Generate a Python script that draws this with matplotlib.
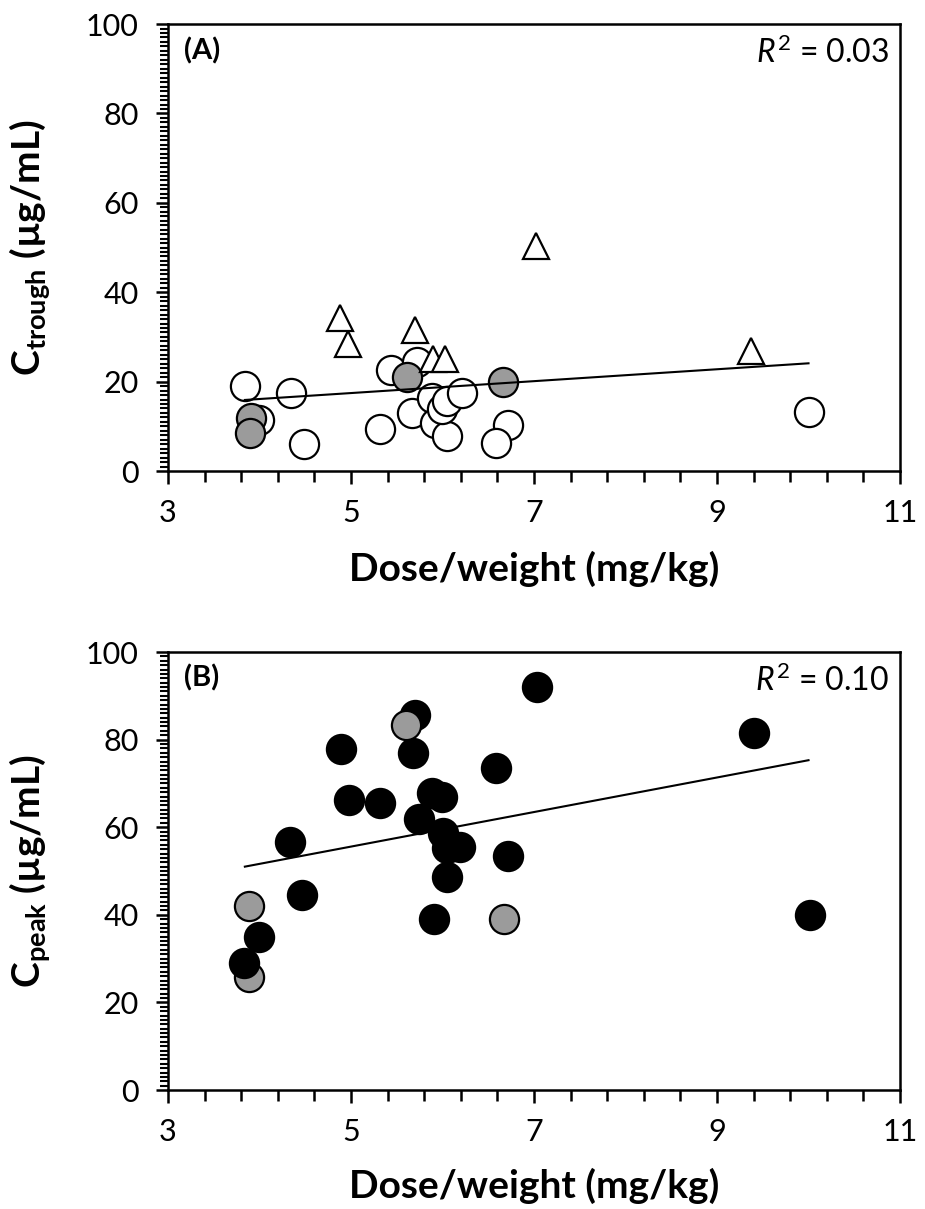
import matplotlib
matplotlib.use("Agg")
import matplotlib.pyplot as plt
import numpy as np
from matplotlib.ticker import FixedLocator

plt.rcParams["font.family"] = ["Lato", "DejaVu Sans"]
plt.rcParams["mathtext.fontset"] = "custom"
plt.rcParams["mathtext.rm"] = "Lato"
plt.rcParams["mathtext.it"] = "Lato:italic"
plt.rcParams["mathtext.bf"] = "Lato:bold"

# panel A: trough, circles (open / grey) and triangles
trough_dose = [3.84, 4.34, 4.00, 4.49, 5.32, 5.44, 5.72, 5.67, 5.88, 5.92,
               6.05, 5.99, 6.05, 6.21, 6.72, 6.58, 10.0]
trough_conc = [19.0, 17.4, 11.4, 6.0, 9.3, 22.6, 24.5, 12.9, 16.3, 10.7,
               7.8, 13.9, 15.6, 17.4, 10.3, 6.2, 13.3]
trough_grey_dose = [3.91, 3.90, 5.61, 6.66]
trough_grey_conc = [11.8, 8.6, 21.1, 20.0]
tri_dose = [4.88, 4.97, 5.70, 5.90, 6.03, 7.02, 9.37]
tri_conc = [34.2, 28.4, 31.5, 25.0, 25.0, 50.3, 26.8]
fit_x = [3.84, 10.0]
fit_a = [15.9, 24.1]
r2_a = "0.03"

# panel B: peak, drawn in this order; 'k' black, 'g' grey
peak_dose = [3.89, 7.03, 5.70, 4.89, 5.68, 6.58, 4.98, 5.32, 5.88, 5.99,
             5.74, 6.01, 6.19, 6.05, 6.05, 6.72, 4.33, 4.47, 4.00, 3.83,
             5.91, 10.02, 9.40, 5.60, 3.88, 6.67]
peak_conc = [25.9, 92.1, 85.6, 77.8, 77.0, 73.6, 66.2, 65.5, 67.7, 67.0,
             61.8, 58.6, 55.5, 55.2, 48.7, 53.4, 56.7, 44.5, 35.0, 28.9,
             39.0, 40.0, 81.6, 83.3, 42.1, 39.0]
peak_group = ["g", "k", "k", "k", "k", "k", "k", "k", "k", "k",
              "k", "k", "k", "k", "k", "k", "k", "k", "k", "k",
              "k", "k", "k", "g", "g", "g"]
fit_b = [51.0, 75.3]
r2_b = "0.10"

x_ticks = [3, 5, 7, 9, 11]
y_ticks = [0, 20, 40, 60, 80, 100]

GREY = "#9b9b9b"
MS = 21
EW = 1.6


def style_axes(ax, ylabel, tag, r2):
    ax.set_xlim(3, 11)
    ax.set_ylim(0, 100)
    ax.xaxis.set_major_locator(FixedLocator(x_ticks))
    ax.xaxis.set_minor_locator(FixedLocator(np.arange(3, 11.01, 0.4)))
    ax.yaxis.set_major_locator(FixedLocator(y_ticks))
    ax.yaxis.set_minor_locator(FixedLocator(np.arange(0, 100.5, 1)))
    for sp in ax.spines.values():
        sp.set_linewidth(1.8)
    ax.tick_params(axis="both", which="major", direction="out", width=1.8,
                   labelsize=22, length=9)
    ax.tick_params(axis="x", which="minor", direction="out", width=1.8, length=8)
    ax.tick_params(axis="y", which="minor", direction="out", width=1.5,
                   length=6, left=True)
    ax.tick_params(axis="x", which="major", pad=11)
    ax.tick_params(axis="y", which="major", pad=12)
    ax.set_xlabel("Dose/weight (mg/kg)", fontsize=28, fontweight="bold")
    ax.xaxis.set_label_coords(0.5, -0.178)
    ax.xaxis.label.set_va("top")
    ax.set_ylabel(ylabel, fontsize=28, fontweight="bold")
    ax.yaxis.set_label_coords(-0.158, 0.5)
    ax.text(0.022, 0.94, tag, transform=ax.transAxes, fontsize=21,
            fontweight="bold", ha="left", va="center")
    ax.text(0.985, 0.935, r"$\mathit{R}^2$ = " + r2, transform=ax.transAxes,
            fontsize=23, ha="right", va="center")


fig = plt.figure(figsize=(9.25, 12.09), dpi=100)
ax1 = fig.add_axes([0.1816, 0.6104, 0.7914, 0.3697])
ax2 = fig.add_axes([0.1816, 0.0984, 0.7914, 0.3623])

# (A)
ax1.plot(trough_dose, trough_conc, "o", ms=MS, mfc="white", mec="black",
         mew=EW, ls="none", zorder=2)
ax1.plot(trough_grey_dose, trough_grey_conc, "o", ms=MS, mfc=GREY, mec="black",
         mew=EW, ls="none", zorder=3)
ax1.plot(tri_dose, tri_conc, "^", ms=19, mfc="white", mec="black",
         mew=EW, ls="none", zorder=4)
ax1.plot(fit_x, fit_a, color="black", lw=1.5, zorder=5)
style_axes(ax1, r"$\mathbf{C}_{\mathbf{trough}}$ (µg/mL)", "(A)", r2_a)

# (B)
for d, c, g in zip(peak_dose, peak_conc, peak_group):
    ax2.plot(d, c, "o", ms=MS, mfc=GREY if g == "g" else "black",
             mec="black", mew=EW, ls="none", zorder=2)
ax2.plot(fit_x, fit_b, color="black", lw=1.5, zorder=5)
style_axes(ax2, r"$\mathbf{C}_{\mathbf{peak}}$ (µg/mL)", "(B)", r2_b)

fig.savefig("out.png", dpi=100)
